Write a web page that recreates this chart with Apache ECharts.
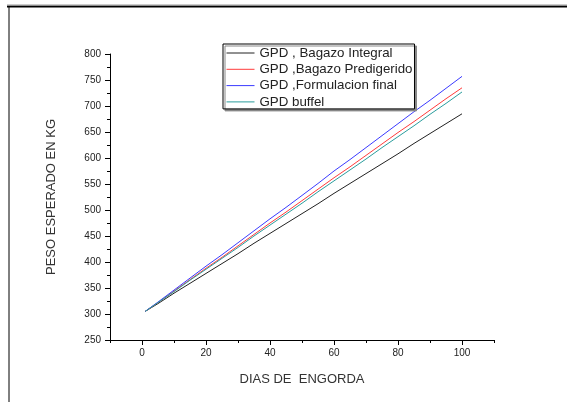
<!DOCTYPE html>
<html>
<head>
<meta charset="utf-8">
<script src="https://cdn.jsdelivr.net/npm/echarts@6/dist/echarts.min.js"></script>
<style>html,body{margin:0;padding:0;background:#fff;}#c{width:567px;height:402px;}</style>
</head>
<body>
<div id="c"></div>
<script>
var dias = [1, 5, 10, 15, 20, 25, 30, 35, 40, 45, 50, 55, 60, 65, 70, 75, 80, 85, 90, 95, 100];
var bagazoIntegral = [305, 320, 340, 359, 378, 397, 416, 436, 455, 474, 493, 512, 532, 551, 570, 589, 608, 628, 647, 666, 685];
var bagazoPredigerido = [305, 322, 344, 366, 388, 409, 431, 453, 475, 496, 518, 540, 562, 583, 605, 627, 649, 670, 692, 714, 735];
var formulacionFinal = [305, 323, 346, 369, 392, 414, 437, 460, 483, 505, 528, 551, 575, 597, 620, 643, 666, 689, 711, 734, 757];
var buffel = [305, 322, 343, 365, 386, 407, 428, 450, 471, 492, 513, 535, 556, 577, 598, 620, 641, 662, 684, 705, 727];
var seriesNames = ['GPD , Bagazo Integral', 'GPD ,Bagazo Predigerido', 'GPD ,Formulacion final', 'GPD buffel'];
var xLabels = [0, 20, 40, 60, 80, 100];

function pairs(ys) { return dias.map(function (d, i) { return [d, ys[i]]; }); }

var chart = echarts.init(document.getElementById('c'), null, { renderer: 'canvas' });
var font = 'Arial, "Liberation Sans", sans-serif';
var colors = ['#222222', '#ff3b3b', '#3b3bff', '#2a9d9d'];
var datasets = [bagazoIntegral, bagazoPredigerido, formulacionFinal, buffel];

chart.setOption({
  animation: false,
  backgroundColor: '#ffffff',
  grid: { left: 110, top: 54, width: 384, height: 286, containLabel: false },
  legend: {
    orient: 'vertical',
    left: 223,
    top: 44,
    padding: [2, 2, 0, 3],
    itemGap: 2.3,
    itemWidth: 28,
    itemHeight: 14,
    borderColor: '#000',
    borderWidth: 1,
    borderRadius: 0,
    backgroundColor: '#fff',
    shadowColor: '#888',
    shadowOffsetX: 2,
    shadowOffsetY: 2,
    shadowBlur: 0,
    itemStyle: { opacity: 0 },
    lineStyle: { width: 1 },
    textStyle: { fontFamily: font, fontSize: 13.3, color: '#222', lineHeight: 14 },
    data: seriesNames
  },
  xAxis: [{
    type: 'value', min: -10, max: 110, interval: 10,
    name: 'DIAS DE  ENGORDA', nameLocation: 'middle', nameGap: 33,
    nameTextStyle: { fontFamily: font, fontSize: 13, color: '#333' },
    axisLine: { show: true, onZero: false, lineStyle: { color: '#000', width: 1 } },
    axisTick: { show: true, length: 3, lineStyle: { color: '#000' } },
    axisLabel: { customValues: xLabels, fontFamily: font, fontSize: 10, color: '#222', margin: 8 },
    splitLine: { show: false }
  }, {
    type: 'value', min: -10, max: 110, interval: 10, position: 'bottom',
    axisLine: { show: false, onZero: false },
    axisTick: { show: true, length: 5, customValues: xLabels, lineStyle: { color: '#000' } },
    axisLabel: { show: false },
    splitLine: { show: false }
  }],
  yAxis: {
    type: 'value', min: 250, max: 800, interval: 50,
    name: 'PESO ESPERADO EN KG', nameLocation: 'middle', nameGap: 52, nameRotate: 90,
    nameTextStyle: { fontFamily: font, fontSize: 13, color: '#333' },
    axisLine: { show: true, onZero: false, lineStyle: { color: '#000', width: 1 } },
    axisTick: { show: true, length: 5, lineStyle: { color: '#000' } },
    minorTick: { show: true, splitNumber: 2, length: 3, lineStyle: { color: '#000' } },
    axisLabel: { fontFamily: font, fontSize: 10, color: '#222', margin: 9 },
    splitLine: { show: false }
  },
  series: datasets.map(function (ys, i) {
    return {
      name: seriesNames[i], type: 'line', xAxisIndex: 0, data: pairs(ys),
      symbol: 'none', showSymbol: false,
      lineStyle: { color: colors[i], width: 1 },
      itemStyle: { color: colors[i] }
    };
  }),
  graphic: [
    { type: 'line', shape: { x1: 7, y1: 6.5, x2: 567, y2: 6.5 }, style: { stroke: '#000', lineWidth: 2 } },
    { type: 'line', shape: { x1: 7, y1: 5, x2: 567, y2: 5 }, style: { stroke: '#999', lineWidth: 1 } },
    { type: 'line', shape: { x1: 9, y1: 6, x2: 9, y2: 402 }, style: { stroke: '#000', lineWidth: 1 } }
  ]
});
</script>
</body>
</html>
